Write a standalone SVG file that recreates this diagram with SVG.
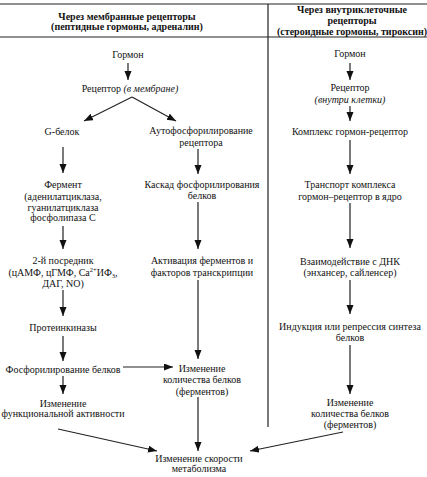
<svg xmlns="http://www.w3.org/2000/svg" width="427" height="477" viewBox="0 0 427 477">
<style>
text{font-family:"Liberation Serif","Times New Roman",serif;font-size:10px;fill:#111;text-anchor:middle}
.h{font-weight:bold}
.i{font-style:italic}
.ln{stroke:#222;stroke-width:1.2;fill:none}
.c{stroke:#222;stroke-width:1.2;fill:none;marker-end:url(#ah)}
</style>
<defs>
<marker id="ah" markerUnits="userSpaceOnUse" markerWidth="10" markerHeight="8" refX="9" refY="3.5" orient="auto">
<path d="M0,0 L9,3.5 L0,7 z" fill="#111"/>
</marker>
</defs>
<rect width="427" height="477" fill="#fff"/>
<g id="frame">
<line class="ln" x1="0" y1="4" x2="427" y2="4"/>
<line class="ln" x1="0" y1="37" x2="427" y2="37"/>
<line class="ln" x1="268" y1="4" x2="268" y2="427"/>
</g>
<g id="hdr-left">
<text class="h" x="127" y="19.5">Через мембранные рецепторы</text>
<text class="h" x="127" y="30">(пептидные гормоны, адреналин)</text>
</g>
<g id="hdr-right">
<text class="h" x="352" y="13">Через внутриклеточные</text>
<text class="h" x="352" y="24">рецепторы</text>
<text class="h" x="352" y="35">(стероидные гормоны, тироксин)</text>
</g>
<g id="n-hormone-l"><text x="128" y="57.5">Гормон</text></g>
<g id="n-receptor-l"><text x="130" y="91.5">Рецептор <tspan class="i">(в мембране)</tspan></text></g>
<g id="n-gprotein"><text x="62" y="134.5">G-белок</text></g>
<g id="n-enzyme">
<text x="63" y="187.5">Фермент</text>
<text x="63" y="199.5">(аденилатциклаза,</text>
<text x="63" y="210.5">гуанилатциклаза</text>
<text x="63" y="220.5">фосфолипаза С</text>
</g>
<g id="n-messenger">
<text x="63" y="263.5">2-й посредник</text>
<text x="63" y="275.5">(цАМФ, цГМФ, Ca<tspan font-size="6.5" dy="-4">2+</tspan><tspan dy="4">ИФ</tspan><tspan font-size="6.5" dy="2">3</tspan><tspan dy="-2">,</tspan></text>
<text x="63" y="286.5">ДАГ, NO)</text>
</g>
<g id="n-kinases"><text x="63" y="330.5">Протеинкиназы</text></g>
<g id="n-phosph"><text x="63" y="372.5">Фосфорилирование белков</text></g>
<g id="n-funcact">
<text x="63" y="406.5">Изменение</text>
<text x="63" y="417">функциональной активности</text>
</g>
<g id="n-autophos">
<text x="201" y="133.5">Аутофосфорилирование</text>
<text x="201" y="145.5">рецептора</text>
</g>
<g id="n-cascade">
<text x="202" y="187.5">Каскад фосфорилирования</text>
<text x="202" y="198.5">белков</text>
</g>
<g id="n-activation">
<text x="202" y="263.5">Активация ферментов и</text>
<text x="202" y="276">факторов транскрипции</text>
</g>
<g id="n-amount-m">
<text x="202" y="371.5">Изменение</text>
<text x="202" y="382.5">количества белков</text>
<text x="202" y="394.5">(ферментов)</text>
</g>
<g id="n-metab">
<text x="199" y="461.5">Изменение скорости</text>
<text x="199" y="472">метаболизма</text>
</g>
<g id="n-hormone-r"><text x="350" y="56.5">Гормон</text></g>
<g id="n-receptor-r">
<text x="350" y="90.5">Рецептор</text>
<text class="i" x="350" y="103">(внутри клетки)</text>
</g>
<g id="n-complex"><text x="350" y="134.5">Комплекс гормон-рецептор</text></g>
<g id="n-transport">
<text x="350" y="187.5">Транспорт комплекса</text>
<text x="350" y="199.5">гормон–рецептор в ядро</text>
</g>
<g id="n-dna">
<text x="350" y="264.5">Взаимодействие с ДНК</text>
<text x="350" y="275.5">(энхансер, сайленсер)</text>
</g>
<g id="n-induction">
<text x="350" y="329.5">Индукция или репрессия синтеза</text>
<text x="350" y="340.5">белков</text>
</g>
<g id="n-amount-r">
<text x="350" y="405.5">Изменение</text>
<text x="350" y="416.5">количества белков</text>
<text x="350" y="427.5">(ферментов)</text>
</g>
<g id="connectors">
<line class="c" x1="128" y1="63" x2="128" y2="80"/>
<line class="c" x1="132" y1="97" x2="84" y2="121"/>
<line class="c" x1="132" y1="97" x2="176" y2="121"/>
<line class="c" x1="63" y1="147" x2="63" y2="173"/>
<line class="c" x1="63" y1="226" x2="63" y2="249"/>
<line class="c" x1="63" y1="290" x2="63" y2="316"/>
<line class="c" x1="63" y1="336" x2="63" y2="361"/>
<line class="c" x1="63" y1="376" x2="63" y2="394"/>
<line class="c" x1="123" y1="367" x2="173" y2="367"/>
<line class="c" x1="58" y1="429" x2="157" y2="451"/>
<line class="c" x1="198" y1="149" x2="198" y2="174"/>
<line class="c" x1="198" y1="202" x2="198" y2="249"/>
<line class="c" x1="198" y1="280" x2="198" y2="359"/>
<line class="c" x1="198" y1="397" x2="198" y2="451"/>
<line class="c" x1="350" y1="63" x2="350" y2="80"/>
<line class="c" x1="350" y1="106" x2="350" y2="121"/>
<line class="c" x1="350" y1="140" x2="350" y2="174"/>
<line class="c" x1="350" y1="203" x2="350" y2="248"/>
<line class="c" x1="350" y1="280" x2="350" y2="314"/>
<line class="c" x1="350" y1="345" x2="350" y2="394"/>
<line class="c" x1="343" y1="432" x2="250" y2="451"/>
</g>
</svg>
